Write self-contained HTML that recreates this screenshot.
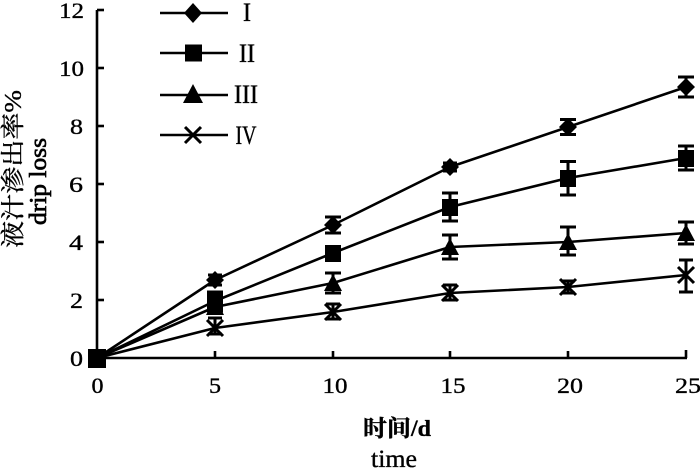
<!DOCTYPE html>
<html>
<head>
<meta charset="utf-8">
<style>
  html, body { margin:0; padding:0; background:#fff; }
  svg { display:block; }
  text { font-family: "Liberation Serif", "Noto Serif CJK SC", "Noto Sans CJK SC", serif; fill:#000; stroke:#000; stroke-width:0.35; }
</style>
</head>
<body>
<svg width="700" height="469" viewBox="0 0 700 469" xmlns="http://www.w3.org/2000/svg">
  <rect width="700" height="469" fill="#fff"/>

  <!-- Axes -->
  <g stroke="#000" stroke-width="2.6" fill="none">
    <line x1="97" y1="10" x2="97" y2="359"/>
    <line x1="96" y1="358" x2="687" y2="358"/>
    <line x1="97" y1="10" x2="104" y2="10"/>
    <line x1="97" y1="68" x2="104" y2="68"/>
    <line x1="97" y1="126" x2="104" y2="126"/>
    <line x1="97" y1="184" x2="104" y2="184"/>
    <line x1="97" y1="242" x2="104" y2="242"/>
    <line x1="97" y1="300" x2="104" y2="300"/>
    <line x1="215" y1="358" x2="215" y2="351"/>
    <line x1="333" y1="358" x2="333" y2="351"/>
    <line x1="450" y1="358" x2="450" y2="351"/>
    <line x1="568" y1="358" x2="568" y2="351"/>
    <line x1="686" y1="358" x2="686" y2="350"/>
  </g>

  <!-- Y tick labels -->
  <g font-size="22" text-anchor="end">
    <text x="84" y="18" textLength="25" lengthAdjust="spacingAndGlyphs">12</text>
    <text x="84" y="76" textLength="25" lengthAdjust="spacingAndGlyphs">10</text>
    <text x="83" y="134" textLength="13" lengthAdjust="spacingAndGlyphs">8</text>
    <text x="83" y="192" textLength="14" lengthAdjust="spacingAndGlyphs">6</text>
    <text x="83" y="250" textLength="14" lengthAdjust="spacingAndGlyphs">4</text>
    <text x="83" y="308" textLength="13" lengthAdjust="spacingAndGlyphs">2</text>
    <text x="83" y="366" textLength="13" lengthAdjust="spacingAndGlyphs">0</text>
  </g>

  <!-- X tick labels -->
  <g font-size="22" text-anchor="middle">
    <text x="97.5" y="393" textLength="12" lengthAdjust="spacingAndGlyphs">0</text>
    <text x="215" y="393" textLength="12" lengthAdjust="spacingAndGlyphs">5</text>
    <text x="335" y="393" textLength="25" lengthAdjust="spacingAndGlyphs">10</text>
    <text x="453" y="393" textLength="25" lengthAdjust="spacingAndGlyphs">15</text>
    <text x="570" y="393" textLength="26" lengthAdjust="spacingAndGlyphs">20</text>
    <text x="688" y="393" textLength="26" lengthAdjust="spacingAndGlyphs">25</text>
  </g>

  <!-- Axis titles -->
  <text x="397" y="436" font-size="23" text-anchor="middle" textLength="68" lengthAdjust="spacingAndGlyphs" font-weight="bold">时间/d</text>
  <text x="394" y="467" font-size="25" text-anchor="middle" textLength="46" lengthAdjust="spacingAndGlyphs">time</text>

  <text transform="translate(21,169) rotate(-90)" font-size="24" text-anchor="middle" textLength="158" lengthAdjust="spacingAndGlyphs">液汁渗出率%</text>
  <text transform="translate(46,181.5) rotate(-90)" font-size="24" text-anchor="middle" textLength="87" lengthAdjust="spacingAndGlyphs" style="stroke-width:0.7">drip loss</text>

  <!-- Series lines -->
  <g stroke="#000" stroke-width="2.6" fill="none" stroke-linejoin="round">
    <polyline points="97,358 215,280 333,225 450,167 568,127 686,87"/>
    <polyline points="97,358 215,301 333,253 450,207 568,178 686,158"/>
    <polyline points="97,358 215,307 333,283 450,247 568,242 686,233"/>
    <polyline points="97,358 215,328 333,312 450,293 568,287 686,275"/>
  </g>

  <!-- Error bars -->
  <g stroke="#000" stroke-width="3" fill="none">
    <path d="M215,275V285M208,275H222M208,285H222"/>
    <path d="M333,217V233M325,217H341M325,233H341"/>
    <path d="M450,163V171M443,163H457M443,171H457"/>
    <path d="M568,119.5V134.5M560,119.5H576M560,134.5H576"/>
    <path d="M686,77V97M678,77H694M678,97H694"/>
    <path d="M215,292V311M207,292H223M207,311H223"/>
    <path d="M333,247V259M325,247H341M325,259H341"/>
    <path d="M450,193V221M442,193H458M442,221H458"/>
    <path d="M568,161.5V195M560,161.5H576M560,195H576"/>
    <path d="M686,146V170M678,146H694M678,170H694"/>
    <path d="M215,302V313M208,302H222M208,313H222"/>
    <path d="M333,273V293M325,273H341M325,293H341"/>
    <path d="M450,235V259M442,235H458M442,259H458"/>
    <path d="M568,227V255M560,227H576M560,255H576"/>
    <path d="M686,222V244M678,222H694M678,244H694"/>
    <path d="M215,318V334M208,318H222M208,334H222"/>
    <path d="M333,304V319M326,304H340M326,319H340"/>
    <path d="M450,285V300M443,285H457M443,300H457"/>
    <path d="M568,281V293M561,281H575M561,293H575"/>
    <path d="M686,260V292M679,260H693M679,292H693"/>
  </g>

  <!-- I diamonds -->
  <g fill="#000">
    <path d="M97,349L106,358L97,367L88,358Z"/>
    <path d="M215,271L224,280L215,289L206,280Z"/>
    <path d="M333,216L342,225L333,234L324,225Z"/>
    <path d="M450,158L459,167L450,176L441,167Z"/>
    <path d="M568,118L577,127L568,136L559,127Z"/>
    <path d="M686,78L695,87L686,96L677,87Z"/>
  </g>
  <!-- II squares -->
  <g fill="#000">
    <rect x="88" y="349" width="18" height="19"/>
    <rect x="207" y="293" width="16" height="17"/>
    <rect x="325" y="245" width="16" height="17"/>
    <rect x="442" y="199" width="16" height="17"/>
    <rect x="560" y="170" width="16" height="17"/>
    <rect x="678" y="150" width="16" height="17"/>
  </g>
  <!-- III triangles -->
  <g fill="#000">
    <path d="M215,298L224,315L206,315Z"/>
    <path d="M333,274L342,291L324,291Z"/>
    <path d="M450,238L459,255L441,255Z"/>
    <path d="M568,233L577,250L559,250Z"/>
    <path d="M686,224L695,241L677,241Z"/>
  </g>
  <!-- IV crosses -->
  <g stroke="#000" stroke-width="3" fill="none">
    <path d="M207,320L223,336M223,320L207,336"/>
    <path d="M325,304L341,320M341,304L325,320"/>
    <path d="M442,285L458,301M458,285L442,301"/>
    <path d="M560,279L576,295M576,279L560,295"/>
    <path d="M678,267L694,283M694,267L678,283"/>
  </g>

  <!-- Legend -->
  <g stroke="#000" stroke-width="2.6">
    <line x1="160" y1="13" x2="228" y2="13"/>
    <line x1="160" y1="53" x2="228" y2="53"/>
    <line x1="160" y1="95" x2="228" y2="95"/>
    <line x1="160" y1="135" x2="228" y2="135"/>
  </g>
  <path d="M193,3L202,13L193,23L184,13Z" fill="#000"/>
  <rect x="185" y="44.5" width="17" height="17" fill="#000"/>
  <path d="M193,84L203,103L183,103Z" fill="#000"/>
  <path d="M185,127L201,143M201,127L185,143" stroke="#000" stroke-width="3" fill="none"/>

  <g font-size="26" text-anchor="middle">
    <text x="247" y="21" textLength="8" lengthAdjust="spacingAndGlyphs">I</text>
    <text x="247" y="62" textLength="16" lengthAdjust="spacingAndGlyphs">II</text>
    <text x="246" y="103" textLength="24" lengthAdjust="spacingAndGlyphs">III</text>
    <text x="246" y="144" textLength="21" lengthAdjust="spacingAndGlyphs">IV</text>
  </g>
</svg>
</body>
</html>
